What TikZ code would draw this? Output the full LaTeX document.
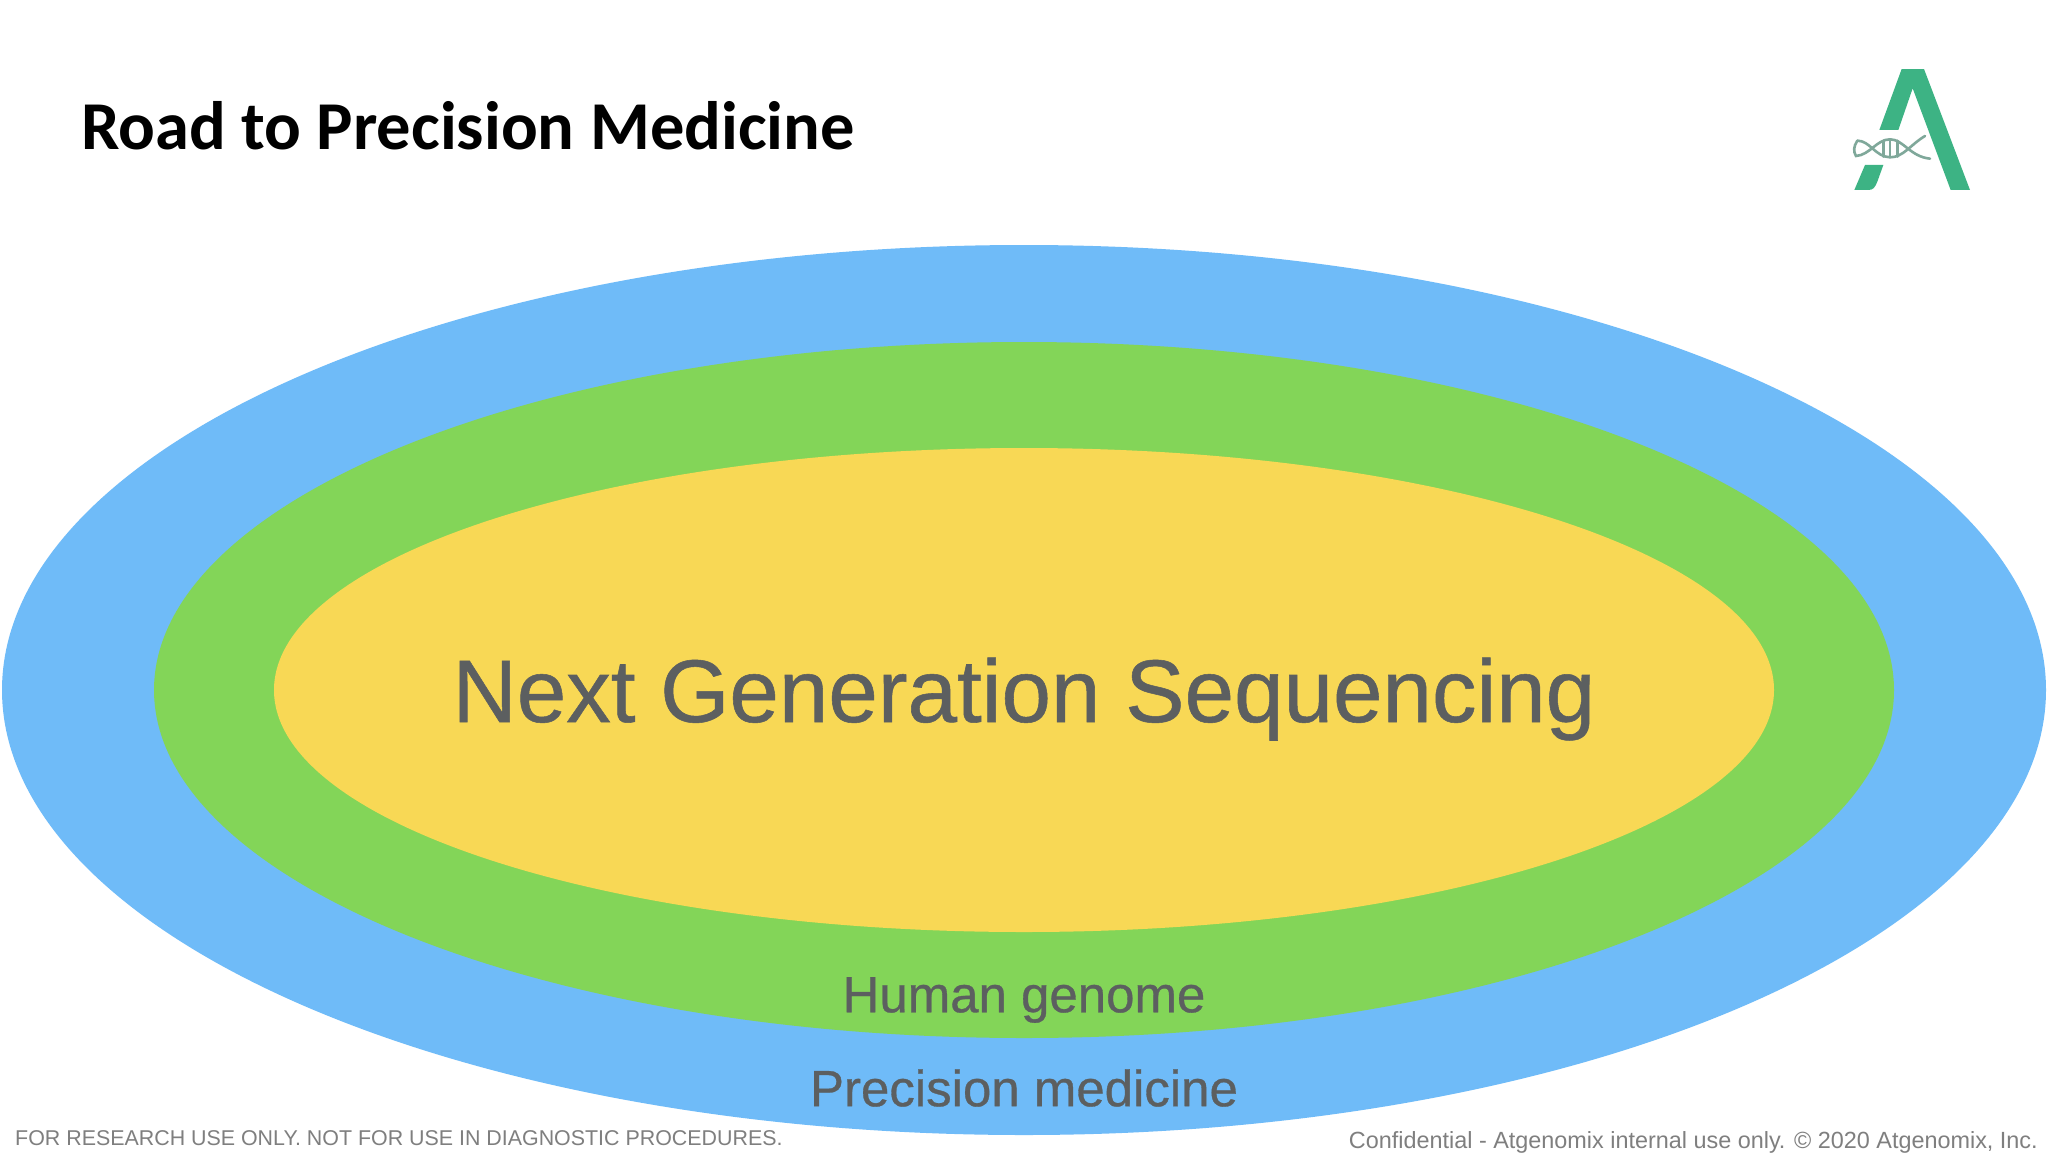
\documentclass[tikz,border=0pt]{standalone}
\usepackage{fontspec}
\setmainfont{Liberation Sans}
\newfontfamily\titlefont{Carlito}
\newfontfamily\labelfont[FakeBold=0.6]{Liberation Sans}
\definecolor{blueell}{HTML}{6FBBF8}
\definecolor{greenell}{HTML}{83D558}
\definecolor{yellowell}{HTML}{F8D855}
\definecolor{labelgray}{HTML}{5C5F60}
\definecolor{footgray}{HTML}{7F7F7F}
\definecolor{logogreen}{HTML}{3DB384}
\definecolor{dnagray}{HTML}{7FA89A}
\tikzset{
  lbl/.style={text=labelgray,inner sep=0pt,anchor=center},
  foot/.style={text=footgray,inner sep=0pt},
  dna/.style={draw=dnagray,line width=2.6pt,line cap=round}
}
\begin{document}
\begin{tikzpicture}[x=1pt,y=-1pt]
\useasboundingbox (0,0) rectangle (2048,1152);
\fill[white] (0,0) rectangle (2048,1152);
\fill[blueell] (1024,690) ellipse [x radius=1022,y radius=445];
\fill[greenell] (1024,690) ellipse [x radius=870,y radius=348];
\fill[yellowell] (1024,690) ellipse [x radius=750,y radius=242];
\node[lbl] (ngs) at (1024,699) {\labelfont\fontsize{89}{100}\selectfont Next Generation Sequencing};
\node[lbl] (hg) at (1024,1000) {\labelfont\fontsize{51}{58}\selectfont Human genome};
\node[lbl] (pm) at (1024,1088) {\labelfont\fontsize{51}{58}\selectfont Precision medicine};
\node[anchor=base west,inner sep=0pt] (title) at (81,149) {\titlefont\bfseries\fontsize{68.5}{76}\selectfont Road to Precision Medicine};
\node[foot,anchor=base west,font=\fontsize{21.4}{26}\selectfont] (fl) at (15,1145) {FOR RESEARCH USE ONLY. NOT FOR USE IN DIAGNOSTIC PROCEDURES.};
\node[foot,anchor=base east,font=\fontsize{23.4}{27}\selectfont] (fr) at (2038,1148) {Confidential - Atgenomix internal use only. © 2020 Atgenomix, Inc.};
\begin{scope}[shift={(1820,50)},x=0.3333pt,y=-0.3333pt]
\fill[logogreen] (245,57) -- (312,57) -- (450,420) -- (392,420) -- (278,115) -- (235,240) -- (178,240) -- cycle;
\fill[logogreen] (135,345) -- (190,345) -- (172,395) .. controls (165,412) and (160,420) .. (145,420) -- (103,420) -- cycle;
\draw[dna] (112,272) .. controls (150,272) and (165,320) .. (210,322) .. controls (250,322) and (270,285) .. (315,258);
\draw[dna] (112,272) .. controls (100,290) and (100,305) .. (108,318) .. controls (150,315) and (170,268) .. (210,268) .. controls (250,268) and (270,320) .. (330,326);
\foreach \px in {190,210,232}{\draw[dna] (\px,272) -- (\px,320);}
\end{scope}
\end{tikzpicture}
\end{document}
